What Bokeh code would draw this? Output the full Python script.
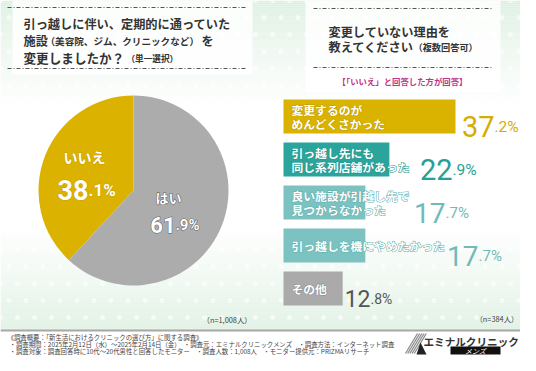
import numpy as np
from bokeh.plotting import figure
from bokeh.models import Range1d, ColumnDataSource
from bokeh.core.properties import value
from bokeh.embed import file_html
from bokeh.resources import INLINE

# ---------------- data ----------------
pie_labels = ["いいえ", "はい"]
pie_values = [38.1, 61.9]
pie_colors = ["#dbb200", "#acacac"]
pie_outline = ["#c79e00", "#5e5e5e"]

bar_categories = [
    "変更するのが\nめんどくさかった",
    "引っ越し先にも\n同じ系列店舗があった",
    "良い施設が引越し先で\n見つからなかった",
    "引っ越しを機にやめたかった",
    "その他",
]
bar_values = [37.2, 22.9, 17.7, 17.7, 12.8]
bar_colors = ["#dab300", "#2ba59b", "#7cc2c1", "#7cc2c1", "#aaaaaa"]
label_outline = ["#c49d00", "#21948b", "#5eb0af", "#5eb0af", "#8a8a8a"]
value_colors = ["#d4ad00", "#26a096", "#70bab9", "#70bab9", "#555555"]

n_left = "（n=1,008人）"
n_right = "（n=384人）"

# ---------------- layout helpers ----------------
JP = value("Noto Sans CJK JP")
NUM = value("Roboto")

p = figure(width=520, height=355, x_range=Range1d(0, 520), y_range=Range1d(355, 0),
           output_backend="svg", toolbar_location=None, min_border=0,
           x_axis_location=None, y_axis_location=None,
           background_fill_color="#ffffff", border_fill_color="#ffffff")
p.grid.visible = False
p.outline_line_color = None

# background gradient bands
ty = np.arange(0, 112, 2.0)
p.quad(left=0, right=536, top=ty, bottom=ty + 2, fill_color="#d7eedb",
       fill_alpha=0.85 * (1 - ty / 112) ** 1.3, line_color=None)
by = np.arange(220, 330, 2.0)
p.quad(left=0, right=536, top=by, bottom=by + 2, fill_color="#d7eedb",
       fill_alpha=0.8 * ((by - 220) / 110) ** 1.2, line_color=None)
# dots
gx, gy = np.meshgrid(np.arange(0, 540, 17.0), np.arange(0, 110, 17.0))
gx2, gy2 = np.meshgrid(np.arange(0, 540, 17.0), np.arange(232, 330, 17.0))
dx = np.concatenate([gx.ravel() + (gy.ravel() // 17 % 2) * 8.5, gx2.ravel() + (gy2.ravel() // 17 % 2) * 8.5])
dy = np.concatenate([gy.ravel(), gy2.ravel()])
p.scatter(dx, dy, size=5, fill_color="white", fill_alpha=0.6, line_color=None)

# title boxes
p.quad(left=[12, 305], right=[252, 500], top=[0, 0], bottom=[74, 92],
       fill_color="white", fill_alpha=0.85, line_color=None)
for (x0, x1, ys) in [(7, 247, [7, 68]), (313, 492, [8, 67])]:
    for yy in ys:
        p.segment(x0=x0, x1=x1, y0=yy, y1=yy, line_color="#555555", line_width=1,
                  line_dash="4 2 1 2")


def txt(x, y, s, size, color, bold=True, align="left", baseline="middle", font=JP,
        style=None, outline=None):
    if style is None:
        style = "bold" if bold else "normal"
    common = dict(text_font=font, text_font_size=f"{size}px", text_font_style=style,
                  text_align=align, text_baseline=baseline)
    if outline is not None:
        p.text(x=[x], y=[y], text=[s], text_color=outline, text_outline_color=outline,
               **common)
    p.text(x=[x], y=[y], text=[s], text_color=color, **common)


# left title
txt(23, 23, "引っ越しに伴い、定期的に通っていた", 12.2, "#333333")
txt(23, 40, "施設", 12.2, "#333333")
txt(45, 40, "（美容院、ジム、クリニックなど）", 9.6, "#333333")
txt(201, 40, "を", 12.2, "#333333")
txt(23, 57, "変更しましたか？", 12.6, "#333333")
txt(126, 57, "（単一選択）", 8.6, "#333333")

# right title
txt(328, 31, "変更していない理由を", 12.2, "#333333")
txt(328, 46, "教えてください", 12.2, "#333333")
txt(413, 46, "（複数回答可）", 9.2, "#333333")
txt(402, 80, "【「いいえ」と回答した方が回答】", 8.4, "#c2338a", align="center")

# ---------------- pie ----------------
frac = np.array(pie_values) / sum(pie_values)
ends = np.pi / 2 + 2 * np.pi * np.cumsum(frac)
starts = np.concatenate([[np.pi / 2], ends[:-1]])
pie_src = ColumnDataSource(dict(label=pie_labels, start=starts, end=ends, color=pie_colors))
p.wedge(x=133, y=190, radius=95, start_angle="start", end_angle="end", direction="anticlock",
        fill_color="color", line_color=None, source=pie_src)

pie_label_xy = [(84, 156), (168, 197)]
pie_num_anchor = [(88, 189, 27, 17), (175, 224, 22, 15)]
for i, lab in enumerate(pie_labels):
    lx, ly = pie_label_xy[i]
    txt(lx, ly, lab, 14 if i == 0 else 13, "white", align="center", outline=pie_outline[i])
    ax, ay, s1, s2 = pie_num_anchor[i]
    ip, dp = f"{pie_values[i]:.1f}".split(".")
    txt(ax, ay, ip, s1, "white", align="right", baseline="alphabetic", font=NUM,
        outline=pie_outline[i])
    txt(ax, ay, "." + dp + "%", s2, "white", align="left", baseline="alphabetic", font=NUM,
        outline=pie_outline[i])

txt(202, 319, n_left, 7.4, "#444444", bold=False)

# ---------------- bars ----------------
p.extra_x_ranges = {"bars": Range1d(start=(0 - 283) / 4.624, end=(520 - 283) / 4.624)}
p.extra_y_ranges = {"bars": Range1d(start=(355 - 116) / 43, end=(0 - 116) / 43)}
idx = list(range(len(bar_values)))
bsrc = ColumnDataSource(dict(y=idx, v=bar_values, c=bar_colors, cat=bar_categories,
                             oc=label_outline, vc=value_colors))
p.hbar(y="y", left=0, right="v", height=0.79, fill_color="c", line_color=None,
       source=bsrc, x_range_name="bars", y_range_name="bars")
lab_common = dict(x=0, y="y", text="cat", source=bsrc, x_offset=8, x_range_name="bars",
                  y_range_name="bars", text_font=JP, text_font_size="11.8px",
                  text_font_style="bold", text_baseline="middle", text_align="left",
                  text_line_height=0.82)
p.text(text_color="oc", text_outline_color="oc", **lab_common)
p.text(text_color="white", **lab_common)

value_anchor_x = [494, 452, 445, 478, 370]
value_sizes = [(29, 15.5), (29, 15.5), (28, 15), (28, 15), (23, 14)]
for i, v in enumerate(bar_values):
    ip, dp = f"{v:.1f}".split(".")
    s1, s2 = value_sizes[i]
    ay = 116 + 43 * i + 10
    txt(value_anchor_x[i], ay, ip, s1, value_colors[i], bold=False, align="right",
        baseline="alphabetic", font=NUM)
    txt(value_anchor_x[i], ay, "." + dp + "%", s2, value_colors[i], bold=False,
        align="left", baseline="alphabetic", font=NUM)

txt(518, 318, n_right, 7.4, "#444444", bold=False, align="right")

# ---------------- footer ----------------
p.quad(left=0, right=536, top=330, bottom=371, fill_color="white", line_color=None)
p.segment(x0=0, x1=536, y0=330, y1=330, line_color="#a8a8a8", line_width=2)
txt(7, 336.5, "《調査概要：「新生活におけるクリニックの選び方」に関する調査》", 6.4, "#444444", bold=False)
txt(9, 343.5, "・調査期間：2025年2月12日（水）～2025年2月14日（金）　・調査元：エミナルクリニックメンズ　・調査方法：インターネット調査", 6.4, "#444444", bold=False)
txt(9, 350.5, "・調査対象：調査回答時に10代～20代男性と回答したモニター　・調査人数：1,008人　・モニター提供元：PRIZMAリサーチ", 6.4, "#444444", bold=False)

# logo (nudged left / up to stay inside the 520x355 figure)
sx = np.arange(405, 416, 2.2)
p.segment(x0=sx, y0=353, x1=sx + 12, y1=333, line_color="#8c8c8c", line_width=1.3)
p.patch(x=[416, 420, 426, 422], y=[354, 342, 354, 354], fill_color="#222222", line_color=None)
txt(423, 341, "エミナルクリニック", 10.6, "#333333")
p.quad(left=450, right=500, top=346, bottom=354, fill_color="#111111", line_color=None)
txt(475, 350, "メンズ", 7, "white", align="center", style="italic")

open("out.html", "w").write(file_html(p, INLINE))
